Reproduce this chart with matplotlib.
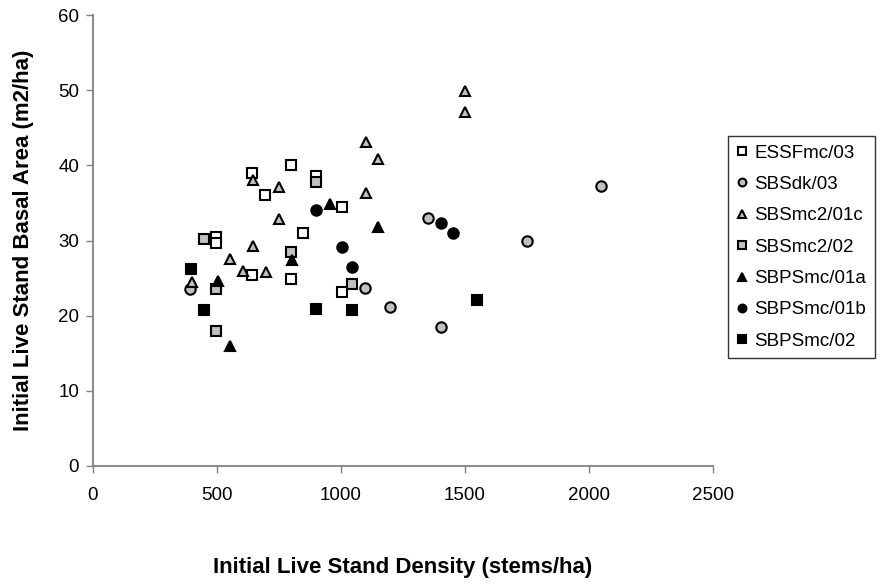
import matplotlib
matplotlib.use("Agg")
import matplotlib.pyplot as plt

plt.rcParams['font.family'] = ['Liberation Sans', 'DejaVu Sans']

# ESSFmc/03
essf_x = [642, 797, 694, 1003, 848, 497, 497, 642, 797, 1003, 900]
essf_y = [39.0, 40.0, 36.0, 34.5, 31.0, 30.5, 29.7, 25.4, 24.9, 23.2, 38.6]
# SBSdk/03
sbsdk_x = [392, 1095, 1198, 1402, 1352, 1751, 2050]
sbsdk_y = [23.6, 23.7, 21.2, 18.5, 33.0, 30.0, 37.3]
# SBSmc2/01c
sbs01c_x = [1500, 1500, 1101, 1151, 645, 750, 1101, 750, 647, 553, 604, 699, 399]
sbs01c_y = [49.9, 47.1, 43.1, 40.8, 38.0, 37.1, 36.3, 32.8, 29.3, 27.6, 26.0, 25.8, 24.5]
# SBSmc2/02
sbs02_x = [900, 447, 797, 1045, 497, 497]
sbs02_y = [37.8, 30.2, 28.5, 24.2, 23.6, 17.9]
# SBPSmc/01a
sbps01a_x = [956, 1151, 801, 504, 553]
sbps01a_y = [34.8, 31.8, 27.4, 24.6, 16.0]
# SBPSmc/01b
sbps01b_x = [900, 1003, 1045, 1402, 1453]
sbps01b_y = [34.0, 29.2, 26.5, 32.3, 31.0]
# SBPSmc/02
sbps02_x = [396, 447, 900, 1045, 1549]
sbps02_y = [26.2, 20.7, 20.9, 20.7, 22.1]

series = [
    ("ESSFmc/03", essf_x, essf_y, 's', 'white'),
    ("SBSdk/03", sbsdk_x, sbsdk_y, 'o', '#c0c0c0'),
    ("SBSmc2/01c", sbs01c_x, sbs01c_y, '^', '#c0c0c0'),
    ("SBSmc2/02", sbs02_x, sbs02_y, 's', '#c0c0c0'),
    ("SBPSmc/01a", sbps01a_x, sbps01a_y, '^', 'black'),
    ("SBPSmc/01b", sbps01b_x, sbps01b_y, 'o', 'black'),
    ("SBPSmc/02", sbps02_x, sbps02_y, 's', 'black'),
]

fig = plt.figure(figsize=(8.84, 5.86), dpi=100)
ax = fig.add_axes([93/884, 1-466/586, (713-93)/884, (466-15)/586])

for name, xs, ys, m, fc in series:
    ax.plot(xs, ys, linestyle='none', marker=m, markersize=7.5,
            markerfacecolor=fc, markeredgecolor='black', markeredgewidth=1.5,
            label=name)

ax.set_xlim(0, 2500)
ax.set_ylim(0, 60)
ax.set_xticks([0, 500, 1000, 1500, 2000, 2500])
ax.set_yticks([0, 10, 20, 30, 40, 50, 60])
for s in ['top', 'right']:
    ax.spines[s].set_visible(False)
for s in ['left', 'bottom']:
    ax.spines[s].set_color('#808080')
    ax.spines[s].set_linewidth(1.3)
ax.tick_params(axis='both', colors='#808080', length=5, width=1.0,
               labelsize=13.5, labelcolor='black', direction='out')
ax.tick_params(axis='x', pad=10)
ax.tick_params(axis='y', pad=5)

ax.set_xlabel("Initial Live Stand Density (stems/ha)", fontsize=16,
              fontweight='bold', labelpad=38)
ax.set_ylabel("Initial Live Stand Basal Area (m2/ha)", fontsize=16,
              fontweight='bold', labelpad=17)

leg = ax.legend(loc='upper left', bbox_to_anchor=(728/884, 1 - 136/586),
                bbox_transform=fig.transFigure, borderaxespad=0,
                frameon=True, fancybox=False,
                fontsize=13.5, markerscale=0.75, handlelength=0.6,
                handletextpad=0.35, labelspacing=0.76, borderpad=0.45)
leg.get_frame().set_edgecolor('black')
leg.get_frame().set_linewidth(1.0)

fig.savefig("out.png", dpi=100)
